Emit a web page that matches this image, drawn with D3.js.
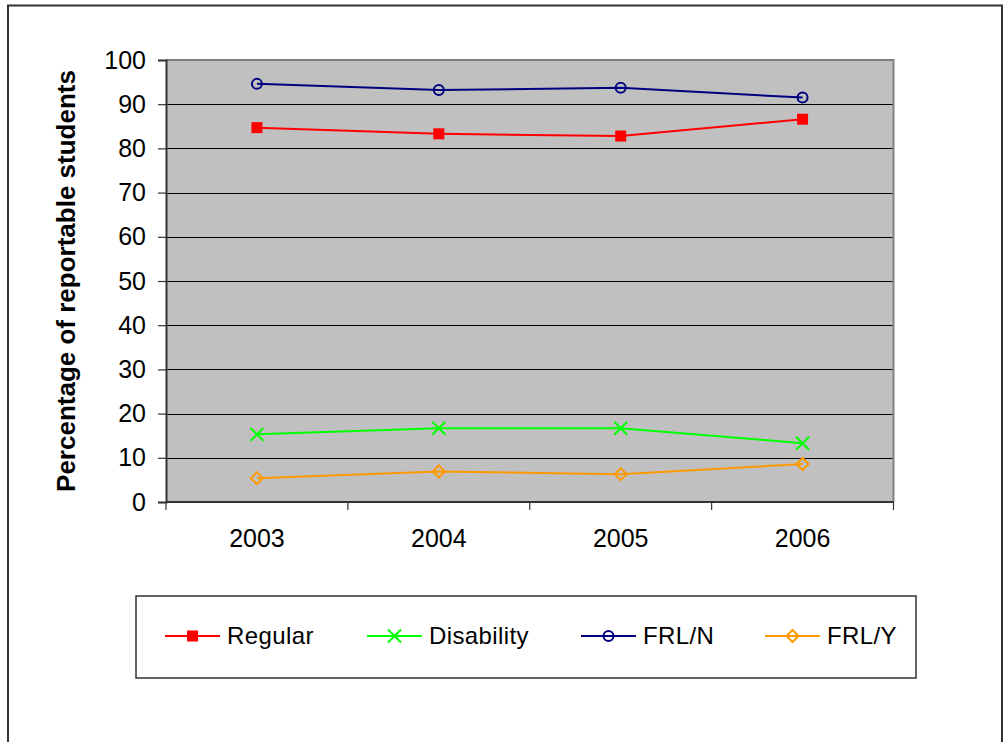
<!DOCTYPE html>
<html>
<head>
<meta charset="utf-8">
<script src="https://cdn.jsdelivr.net/npm/d3@7"></script>
<style>
  html, body { margin: 0; padding: 0; background: #fff; }
  svg { display: block; font-family: "Liberation Sans", Arial, sans-serif; }
</style>
</head>
<body>
<svg id="chart" width="1005" height="742"></svg>
<script>
// Reporting years and series values (percent of reportable students)
const years = ["2003", "2004", "2005", "2006"];
const regular = [84.7, 83.3, 82.8, 86.6];
const disability = [15.3, 16.7, 16.7, 13.3];
const frlN = [94.6, 93.2, 93.7, 91.5];
const frlY = [5.4, 6.9, 6.3, 8.6];
const yTicks = [0, 10, 20, 30, 40, 50, 60, 70, 80, 90, 100];

const series = [
  { name: "Regular", values: regular, color: "#ff0000", marker: "square" },
  { name: "Disability", values: disability, color: "#00ff00", marker: "cross" },
  { name: "FRL/N", values: frlN, color: "#000080", marker: "circle" },
  { name: "FRL/Y", values: frlY, color: "#ff9900", marker: "diamond" }
];

const svg = d3.select("#chart");

// Outer chart frame
svg.append("rect")
  .attr("x", 8).attr("y", 5.5)
  .attr("width", 994).attr("height", 760)
  .attr("fill", "none").attr("stroke", "#333").attr("stroke-width", 2);

const plot = { left: 166, top: 60, right: 893.5, bottom: 502 };

const x = d3.scaleBand().domain(years).range([plot.left, plot.right]);
const y = d3.scaleLinear().domain([0, 100]).range([plot.bottom, plot.top]);

// Plot area background
svg.append("rect")
  .attr("x", plot.left).attr("y", plot.top)
  .attr("width", plot.right - plot.left).attr("height", plot.bottom - plot.top)
  .attr("fill", "#c0c0c0");

// Horizontal gridlines
svg.append("g")
  .selectAll("line")
  .data(yTicks.filter(t => t > 0 && t < 100))
  .join("line")
  .attr("x1", plot.left).attr("x2", plot.right)
  .attr("y1", d => Math.round(y(d)) + 0.5).attr("y2", d => Math.round(y(d)) + 0.5)
  .attr("stroke", "#000").attr("stroke-width", 1);

// Plot border (top and right in gray)
svg.append("path")
  .attr("d", `M${plot.left},${plot.top}H${plot.right}V${plot.bottom}`)
  .attr("fill", "none").attr("stroke", "#808080").attr("stroke-width", 2);

// Y axis
const yAxis = d3.axisLeft(y).tickValues(yTicks).tickSize(8).tickPadding(12);
const gy = svg.append("g")
  .attr("transform", `translate(${plot.left},0)`)
  .call(yAxis);
gy.select(".domain").attr("stroke", "#333").attr("stroke-width", 2);
gy.selectAll(".tick line").attr("stroke", "#333").attr("stroke-width", 1.2);
gy.selectAll(".tick text")
  .attr("font-size", 25).attr("fill", "#000")
  .attr("font-family", "'Liberation Sans', Arial, sans-serif");

// X axis: ticks at category boundaries, labels centered in each band
const boundaries = years.map(d => x(d)).concat([plot.right]);
const gx = svg.append("g");
gx.append("line")
  .attr("x1", plot.left).attr("x2", plot.right)
  .attr("y1", plot.bottom).attr("y2", plot.bottom)
  .attr("stroke", "#333").attr("stroke-width", 2);
gx.selectAll("line.tk")
  .data(boundaries)
  .join("line").attr("class", "tk")
  .attr("x1", d => d).attr("x2", d => d)
  .attr("y1", plot.bottom).attr("y2", plot.bottom + 8)
  .attr("stroke", "#333").attr("stroke-width", 1.2);
gx.selectAll("text")
  .data(years)
  .join("text")
  .attr("x", d => x(d) + x.bandwidth() / 2)
  .attr("y", 547)
  .attr("text-anchor", "middle")
  .attr("font-size", 25)
  .text(d => d);

// Y axis title
svg.append("text")
  .attr("transform", `translate(75,${(plot.top + plot.bottom) / 2}) rotate(-90)`)
  .attr("text-anchor", "middle")
  .attr("font-size", 26)
  .attr("font-weight", "bold")
  .text("Percentage of reportable students");

// Marker drawing
function drawMarker(g, type, color) {
  if (type === "square") {
    g.append("rect").attr("x", -5.5).attr("y", -5.5).attr("width", 11).attr("height", 11)
      .attr("fill", color);
  } else if (type === "cross") {
    g.append("path").attr("d", "M-6.5,-6.5L6.5,6.5M-6.5,6.5L6.5,-6.5")
      .attr("stroke", color).attr("stroke-width", 2).attr("fill", "none");
  } else if (type === "circle") {
    g.append("circle").attr("r", 5)
      .attr("fill", "none").attr("stroke", color).attr("stroke-width", 2);
  } else if (type === "diamond") {
    g.append("path").attr("d", "M0,-6L6,0L0,6L-6,0Z")
      .attr("fill", "none").attr("stroke", color).attr("stroke-width", 2);
  }
}

const line = d3.line()
  .x((d, i) => x(years[i]) + x.bandwidth() / 2)
  .y(d => y(d));

series.forEach(s => {
  svg.append("path")
    .datum(s.values)
    .attr("d", line)
    .attr("fill", "none")
    .attr("stroke", s.color)
    .attr("stroke-width", 2);
  s.values.forEach((v, i) => {
    const g = svg.append("g")
      .attr("transform", `translate(${x(years[i]) + x.bandwidth() / 2},${y(v)})`);
    drawMarker(g, s.marker, s.color);
  });
});

// Legend
const legend = svg.append("g");
legend.append("rect")
  .attr("x", 136).attr("y", 596)
  .attr("width", 780).attr("height", 82)
  .attr("fill", "#fff").attr("stroke", "#333").attr("stroke-width", 1.5);

const legendX = [165, 367, 581, 765];
series.forEach((s, i) => {
  const g = legend.append("g").attr("transform", `translate(${legendX[i]},636)`);
  g.append("line").attr("x1", 0).attr("x2", 55).attr("y1", 0).attr("y2", 0)
    .attr("stroke", s.color).attr("stroke-width", 2);
  const m = g.append("g").attr("transform", "translate(27.5,0)");
  drawMarker(m, s.marker, s.color);
  g.append("text")
    .attr("x", 62).attr("y", 8)
    .attr("font-size", 24)
    .attr("letter-spacing", 0.4)
    .text(s.name);
});
</script>
</body>
</html>
